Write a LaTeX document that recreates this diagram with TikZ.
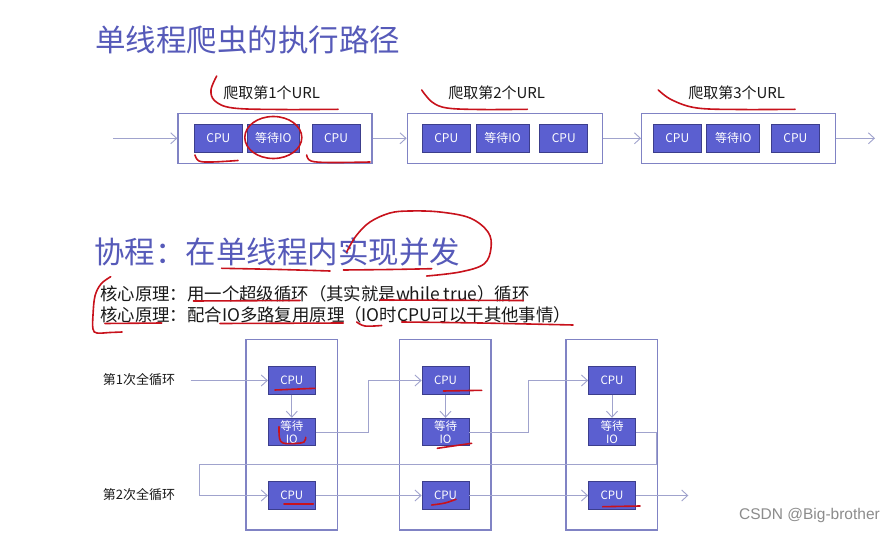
\documentclass[tikz,border=0pt]{standalone}
\usepackage{fontspec}
\newfontfamily\cjk{Noto Sans CJK SC}
\newfontfamily\wm{Liberation Sans}
\usetikzlibrary{arrows.meta}
\definecolor{titlec}{RGB}{86,90,185}
\definecolor{boxfill}{RGB}{91,95,208}
\definecolor{boxline}{RGB}{60,62,140}
\definecolor{outerc}{RGB}{128,131,196}
\definecolor{arrc}{RGB}{160,163,205}
\definecolor{redink}{RGB}{200,18,28}
\definecolor{txt}{RGB}{25,25,25}
\tikzset{
  inbox/.style={rectangle, fill=boxfill, draw=boxline, line width=0.8pt, text=white,
    font=\cjk\fontsize{12}{13}\selectfont, inner sep=0pt, minimum height=28pt, align=center},
  outbox/.style={rectangle, draw=outerc, line width=1.3pt, inner sep=0pt},
  arr/.style={draw=arrc, line width=0.9pt, -{Straight Barb[length=6pt,width=11pt]}},
  urlt/.style={font=\cjk\fontsize{15}{16}\selectfont, text=txt, inner sep=0pt},
  loopt/.style={font=\cjk\fontsize{13}{14}\selectfont, text=txt, inner sep=0pt},
  bodyt/.style={font=\cjk\fontsize{17.4}{18}\selectfont, text=txt, inner sep=0pt, anchor=west},
  titlet/.style={font=\cjk\fontsize{30.5}{33}\selectfont, text=titlec, inner sep=0pt, anchor=west},
  ink/.style={draw=redink, line width=1.6pt, line cap=round, line join=round}
}
\begin{document}
\begin{tikzpicture}[x=1pt,y=-1pt]
\useasboundingbox (0,0) rectangle (896,534);
\fill[white] (0,0) rectangle (896,534);

% titles
\node[titlet] (t1) at (95,40) {单线程爬虫的执行路径};
\node[titlet] (t2) at (94,252) {协程：在单线程内实现并发};
\node[bodyt] (l1) at (100,294) {核心原理：用一个超级循环（其实就是while true）循环};
\node[bodyt] (l2) at (100,315) {核心原理：配合IO多路复用原理（IO时CPU可以干其他事情）};

% top row
\node[outbox, minimum width=194pt, minimum height=50pt] (b1) at (275,138.3) {};
\node[outbox, minimum width=195pt, minimum height=50pt] (b2) at (504.8,138.3) {};
\node[outbox, minimum width=194pt, minimum height=50pt] (b3) at (738.7,138.3) {};
\node[inbox, minimum width=48pt] (c11) at (218.3,138.3) {CPU};
\node[inbox, minimum width=52pt] (w1) at (273.3,138.3) {等待IO};
\node[inbox, minimum width=48pt] (c12) at (336,138.3) {CPU};
\node[inbox, minimum width=48pt] (c21) at (446.2,138.3) {CPU};
\node[inbox, minimum width=53pt] (w2) at (502.5,138.3) {等待IO};
\node[inbox, minimum width=48pt] (c22) at (563.7,138.3) {CPU};
\node[inbox, minimum width=48pt] (c31) at (677.2,138.3) {CPU};
\node[inbox, minimum width=53pt] (w3) at (733.3,138.3) {等待IO};
\node[inbox, minimum width=48pt] (c32) at (795.3,138.3) {CPU};
\node[urlt] (u1) at (271.7,93) {爬取第1个URL};
\node[urlt] (u2) at (496.7,93) {爬取第2个URL};
\node[urlt] (u3) at (736.7,93) {爬取第3个URL};
\coordinate (tin) at (113,138.3);
\coordinate (tout) at (875,138.3);
\draw[arr] (tin) -- (b1.west);
\draw[arr] (b1.east) -- (b2.west);
\draw[arr] (b2.east) -- (b3.west);
\draw[arr] (b3.east) -- (tout);

% bottom diagram
\node[outbox, minimum width=91.3pt, minimum height=190.7pt] (oa) at (291.7,434.7) {};
\node[outbox, minimum width=91.7pt, minimum height=190.7pt] (ob) at (445.2,434.7) {};
\node[outbox, minimum width=91.7pt, minimum height=190.7pt] (oc) at (611.8,434.7) {};
\tikzset{bin/.style={inbox, minimum width=47pt, minimum height=27.6pt, font=\cjk\fontsize{11.5}{13}\selectfont}}
\node[bin] (ca1) at (291.8,380.5) {CPU};
\node[bin] (wa) at (291.8,432) {等待\\IO};
\node[bin] (ca2) at (291.8,495.5) {CPU};
\node[bin] (cb1) at (445.5,380.5) {CPU};
\node[bin] (wb) at (445.5,432) {等待\\IO};
\node[bin] (cb2) at (445.5,495.5) {CPU};
\node[bin] (cc1) at (612,380.5) {CPU};
\node[bin] (wc) at (612,432) {等待\\IO};
\node[bin] (cc2) at (612,495.5) {CPU};
\node[loopt] (r1) at (139,379.5) {第1次全循环};
\node[loopt] (r2) at (139,495) {第2次全循环};

\coordinate (s1) at (190.7,380.5);
\coordinate (j1) at (368.3,380.5);
\coordinate (j2) at (528.3,380.5);
\coordinate (j3) at (656,464);
\coordinate (j4) at (199,464);
\coordinate (e2) at (688.3,495.5);
\draw[arr] (s1) -- (ca1.west);
\draw[arr] (ca1.south) -- (wa.north);
\draw[arr] (cb1.south) -- (wb.north);
\draw[arr] (cc1.south) -- (wc.north);
\draw[arr] (wa.east) -| (j1) -- (cb1.west);
\draw[arr] (wb.east) -| (j2) -- (cc1.west);
\draw[arr] (wc.east) -| (j3) -- (j4) |- (ca2.west);
\draw[arr] (ca2.east) -- (cb2.west);
\draw[arr] (cb2.east) -- (cc2.west);
\draw[arr] (cc2.east) -- (e2);

% watermark
\node[font=\wm\fontsize{15.5}{17}\selectfont, text=black!45, inner sep=0pt] (wmk) at (809.5,515) {CSDN @Big-brother};

% red hand-drawn marks
\draw[ink] plot[smooth, tension=0.6] coordinates {(216.7,76) (211,90) (215,101) (233,108) (280,109.5) (338,109.3)};
\draw[ink] (273.3,137.5) ellipse [x radius=28.5, y radius=21];
\draw[ink] plot[smooth, tension=0.6] coordinates {(195,155) (199,161) (212,162) (238,160.5)};
\draw[ink] plot[smooth, tension=0.6] coordinates {(306.7,155) (311,161) (330,162.5) (370,162)};
\draw[ink] plot[smooth, tension=0.6] coordinates {(421.7,90) (432,102) (447,108) (480,109.5) (527.3,109.3)};
\draw[ink] plot[smooth, tension=0.6] coordinates {(658.3,90) (672,100) (697,108) (740,109.5) (795,109.3)};
\draw[ink] plot[smooth, tension=0.6] coordinates {(346.7,252) (356,236) (370,222) (390,213) (410,211) (440,212) (470,218) (488,232) (491,248) (484,264) (460,272) (426.7,276)};
\draw[ink] plot[smooth, tension=0.6] coordinates {(221.7,268.3) (280,269.5) (330,271)};
\draw[ink] plot[smooth, tension=0.6] coordinates {(343.3,270) (390,269.5) (431.7,268.7)};
\draw[ink] plot[smooth, tension=0.6] coordinates {(110.7,276.7) (101,284) (95,296) (93,315) (93,329) (97,333) (110,332.5) (122,332)};
\draw[ink] (193.3,301) -- (300,300.5);
\draw[ink] (380,300) -- (523.3,300.5);
\draw[ink] (105,323.5) -- (161.7,323);
\draw[ink] (220,323.5) -- (343.3,323);
\draw[ink] plot[smooth, tension=0.6] coordinates {(356.7,322) (365,326) (381.7,325.5)};
\draw[ink] plot[smooth, tension=0.6] coordinates {(401.7,322) (480,323) (573,325)};
\draw[ink] (275,390) -- (315,388.3);
\draw[ink] plot[smooth, tension=0.6] coordinates {(279,426.7) (279.5,438) (283,443) (295,443.5) (304,442) (305.7,437.3)};
\draw[ink] (284,504) -- (313.3,504);
\draw[ink] (443.3,391) -- (481.7,390.3);
\draw[ink] (437.3,448.3) -- (471.7,443.3);
\draw[ink] plot[smooth, tension=0.6] coordinates {(431.7,505) (445,503) (456,499.3)};
\draw[ink] (602.7,506.7) -- (640,506);
\end{tikzpicture}
\end{document}
